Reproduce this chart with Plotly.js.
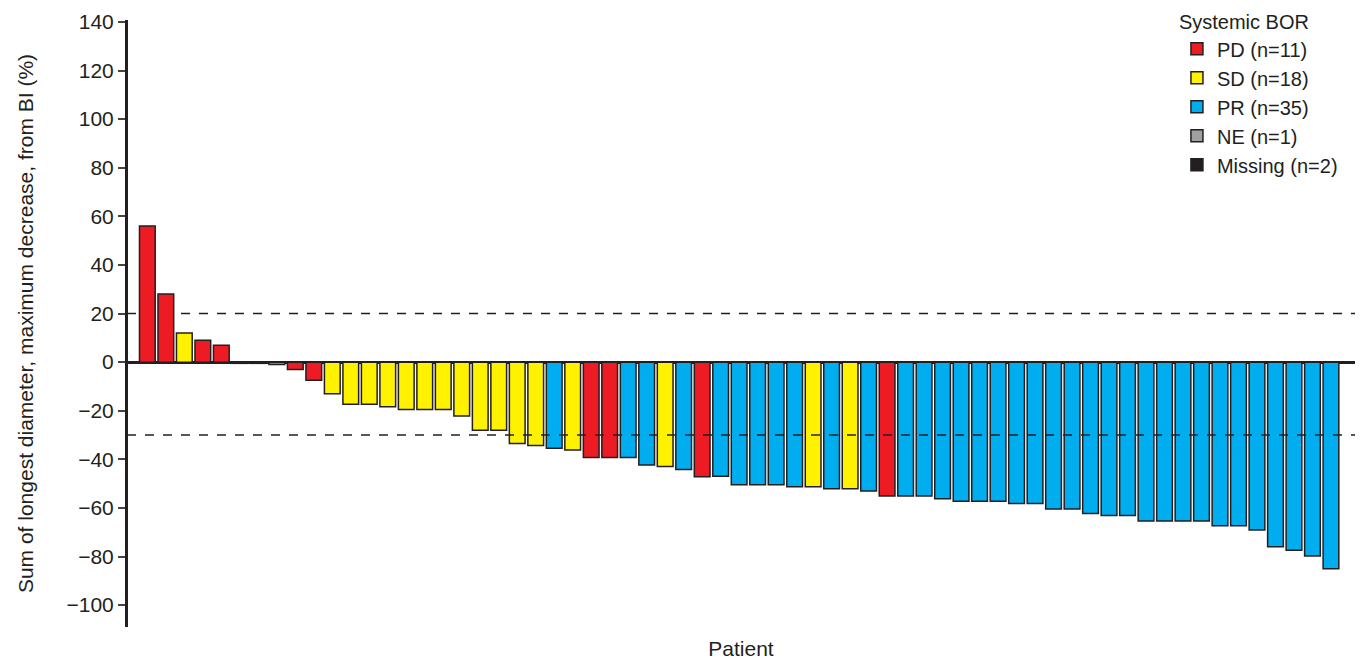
<!DOCTYPE html>
<html>
<head>
<meta charset="utf-8">
<script src="https://cdn.plot.ly/plotly-3.0.1.min.js"></script>
<style>body{margin:0;background:#fff}#chart{width:1369px;height:666px}</style>
</head>
<body>
<div id="chart"></div>
<script>
// best change from baseline, one value per patient (sorted)
var change = [56, 28, 12, 9, 7, -0.5, -0.5, -1, -3, -7.5,
  -13, -17.3, -17.3, -18.4, -19.5, -19.5, -19.5, -22.2, -28, -28, -33.5, -34.3,
  -35.4, -36.2, -39.2, -39.2, -39.2, -42.3, -43, -44.2, -47.2, -47,
  -50.5, -50.5, -50.5, -51.3, -51.3, -52.1, -52.1, -53, -55.1, -55.1, -55.1,
  -56.2, -57.3, -57.3, -57.3, -58.2, -58.2, -60.4, -60.4, -62.3, -63.1, -63.1,
  -65.4, -65.4, -65.4, -65.4, -67.3, -67.3, -69.1, -76, -77.4, -79.8, -85];
var bor = ['PD','PD','SD','PD','PD','Missing','Missing','NE','PD','PD',
  'SD','SD','SD','SD','SD','SD','SD','SD','SD','SD','SD','SD',
  'PR','SD','PD','PD','PR','PR','SD','PR','PD','PR',
  'PR','PR','PR','PR','SD','PR','SD','PR','PD','PR','PR',
  'PR','PR','PR','PR','PR','PR','PR','PR','PR','PR','PR',
  'PR','PR','PR','PR','PR','PR','PR','PR','PR','PR','PR'];
var groups = ['PD','SD','PR','NE','Missing'];
var labels = ['PD (n=11)','SD (n=18)','PR (n=35)','NE (n=1)','Missing (n=2)'];
var colors = ['#ed1c24','#fff200','#00aeef','#a0a0a0','#231f20'];

var traces = groups.map(function(g, k){
  var xs = [], ys = [];
  change.forEach(function(v, i){ if (bor[i] === g){ xs.push(i); ys.push(v); } });
  return {type:'bar', x:xs, y:ys, name:labels[k], width:0.85,
    marker:{color:colors[k], line:{color:'#231f20', width:1.5}}};
});

var layout = {
  width:1369, height:666,
  margin:{l:127, r:14, t:20, b:39, autoexpand:false},
  barmode:'overlay',
  paper_bgcolor:'#fff', plot_bgcolor:'#fff',
  font:{family:'Liberation Sans, Arial, sans-serif', size:21, color:'#231f20'},
  showlegend:true,
  legend:{x:0.855, y:0.995, xanchor:'left', yanchor:'top', yref:'container', bgcolor:'rgba(0,0,0,0)',
    title:{text:'Systemic BOR', font:{size:20}}, font:{size:20}, tracegroupgap:0, itemwidth:30},
  xaxis:{range:[-1.1, 65.3], showticklabels:false, ticks:'', showgrid:false, zeroline:false,
    showline:false, title:{text:'Patient', font:{size:21}, standoff:14}},
  yaxis:{range:[-109, 140.8], dtick:20, ticks:'outside', ticklen:7, tickwidth:2, showgrid:false,
    showline:true, linewidth:2, linecolor:'#231f20', zeroline:true, zerolinewidth:2.5, zerolinecolor:'#231f20',
    title:{text:'Sum of longest diameter, maximum decrease, from BI (%)', font:{size:21}, standoff:27}},
  shapes:[
    {type:'line', xref:'paper', x0:0, x1:1, yref:'y', y0:20, y1:20, line:{color:'#231f20', width:1.5, dash:'dash'}, layer:'below'},
    {type:'line', xref:'paper', x0:0, x1:1, yref:'y', y0:-30, y1:-30, line:{color:'#231f20', width:1.5, dash:'dash'}, layer:'above'},
    {type:'line', xref:'paper', x0:0, x1:0, yref:'paper', y0:0, y1:1, line:{color:'#231f20', width:2}}
  ]
};
Plotly.newPlot('chart', traces, layout, {displayModeBar:false});
</script>
</body>
</html>
